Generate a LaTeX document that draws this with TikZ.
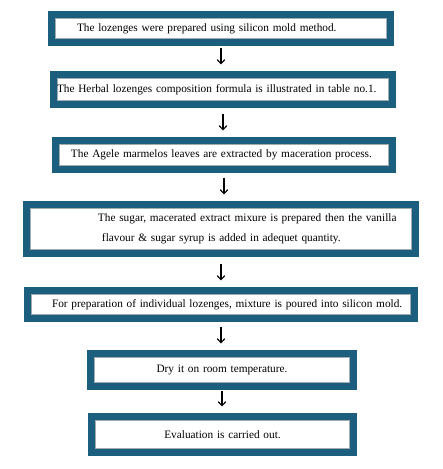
\documentclass[tikz,border=0pt]{standalone}
\usepackage{fontspec}
\setmainfont{Liberation Serif}
\usepackage{xcolor}
\usepackage{tikz}
\usetikzlibrary{arrows.meta,positioning}
\definecolor{frameblue}{HTML}{1B5E7E}
\definecolor{framegray}{HTML}{A3ABAF}

\begin{document}
\begin{tikzpicture}[
  x=1pt, y=1pt,
  box/.style={draw=frameblue,line width=7pt,fill=white,inner xsep=0pt,inner ysep=0pt,
    align=left,font=\fontsize{11.3}{19.5}\selectfont,
    path picture={\draw[framegray,line width=0.8pt]
      ([shift={(3.8pt,-3.8pt)}]path picture bounding box.north west) rectangle
      ([shift={(-3.8pt,3.8pt)}]path picture bounding box.south east);}},
  arr/.style={-{Straight Barb[length=4pt,width=7.5pt]},line width=1.1pt,shorten >=6.5pt}
]
\useasboundingbox (0,0) rectangle (443,-469);
\node[box,text width=339pt,minimum height=28pt] (mold) at (221,-28.5)
  {\hspace*{25.5pt}The lozenges were prepared using silicon mold method.};
\node[box,text width=339pt,minimum height=30pt] (formula) at (223,-89.5)
  {\hspace*{3.5pt}The Herbal lozenges composition formula is illustrated in table no.1.};
\node[box,text width=337pt,minimum height=29pt] (extract) at (224,-155)
  {\hspace*{15.5pt}The Agele marmelos leaves are extracted by maceration process.};
\node[box,text width=389pt,minimum height=49pt] (mixture) at (221,-229)
  {\hspace*{71.5pt}The sugar, macerated extract mixure is prepared then the vanilla\\
   \hspace*{75.5pt}flavour \& sugar syrup is added in adequet quantity.};
\node[box,text width=387pt,minimum height=28pt] (pour) at (221,-304.5)
  {\hspace*{24.5pt}For preparation of individual lozenges, mixture is poured into silicon mold.};
\node[box,text width=263pt,minimum height=33pt,align=center] (dry) at (222,-370)
  {Dry it on room temperature.};
\node[box,text width=262pt,minimum height=36pt,align=center] (eval) at (222.5,-434.5)
  {Evaluation is carried out.};
\draw[arr,shorten <=1.5pt] (mold.south) -- (mold.south |- formula.north);
\draw[arr,shorten <=5.5pt] (formula.south) -- (formula.south |- extract.north);
\draw[arr,shorten <=4.5pt] (extract.south) -- (extract.south |- mixture.north);
\draw[arr,shorten <=6.5pt] (mixture.south) -- (mixture.south |- pour.north);
\draw[arr,shorten <=4.5pt] (pour.south) -- (pour.south |- dry.north);
\draw[arr,shorten <=0.5pt] (dry.south) -- (dry.south |- eval.north);
\end{tikzpicture}
\end{document}
